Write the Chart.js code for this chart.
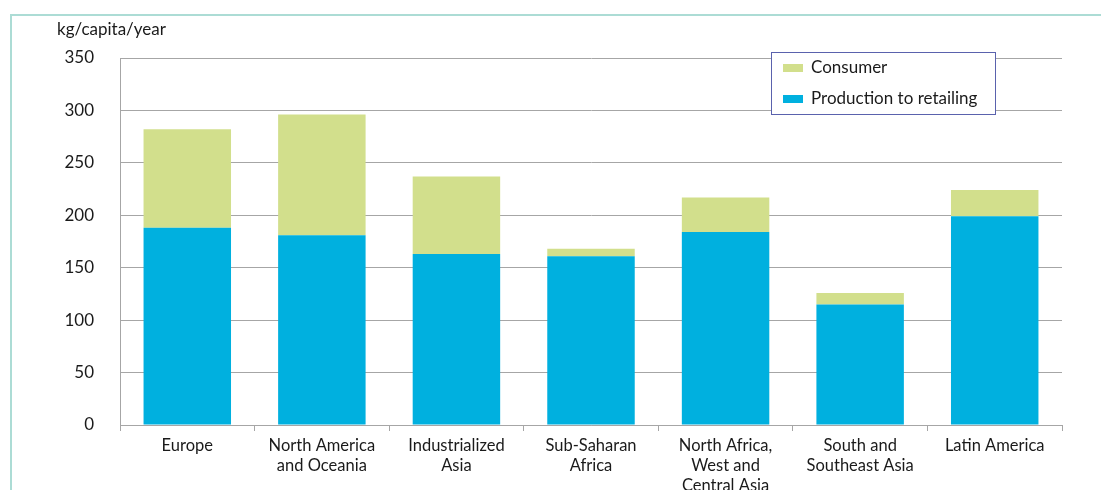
<!DOCTYPE html>
<html>
<head>
<meta charset="utf-8">
<script src="https://cdn.jsdelivr.net/npm/chart.js@4.4.1/dist/chart.umd.min.js"></script>
<style>
  html, body { margin: 0; padding: 0; background: #fff; }
  #wrap { position: relative; width: 1101px; height: 490px; overflow: hidden; }
  #frame {
    position: absolute; left: 10px; top: 14px; right: -10px; bottom: -10px;
    border-left: 2px solid #acdcd5; border-top: 2px solid #acdcd5;
  }
  canvas { position: absolute; left: 0; top: 0; }
</style>
</head>
<body>
<div id="wrap">
  <div id="frame"></div>
  <canvas id="chart" width="1101" height="490"></canvas>
</div>
<script>
const regions = [
  "Europe",
  ["North America", "and Oceania"],
  ["Industrialized", "Asia"],
  ["Sub-Saharan", "Africa"],
  ["North Africa,", "West and", "Central Asia"],
  ["South and", "Southeast Asia"],
  "Latin America"
];
const productionToRetailing = [188, 181, 163, 161, 184, 115, 199];
const consumer = [94, 115, 74, 7, 33, 11, 25];
const yTicks = [0, 50, 100, 150, 200, 250, 300, 350];

const FONT = "Lato, 'Noto Sans', sans-serif";
const TEXT = "#1a1a1a";
const GREEN = "#d2df8c";
const BLUE = "#00b0df";

const overlay = {
  id: "overlay",
  afterDraw(chart) {
    const ctx = chart.ctx;
    ctx.save();
    // unit label above the y axis
    ctx.fillStyle = TEXT;
    ctx.font = `17px ${FONT}`;
    ctx.textBaseline = "middle";
    ctx.textAlign = "left";
    ctx.fillText("kg/capita/year", 57, 30);

    // legend box
    ctx.fillStyle = "#fff";
    ctx.fillRect(771, 52, 224, 62);
    ctx.strokeStyle = "#5a62ad";
    ctx.lineWidth = 1;
    ctx.strokeRect(771.5, 52.5, 224, 62);
    const items = [
      { label: chart.data.datasets[1].label, color: chart.data.datasets[1].backgroundColor, y: 68 },
      { label: chart.data.datasets[0].label, color: chart.data.datasets[0].backgroundColor, y: 99 }
    ];
    items.forEach(it => {
      ctx.fillStyle = it.color;
      ctx.fillRect(783, it.y - 4, 20, 8);
      ctx.fillStyle = TEXT;
      ctx.font = `17px ${FONT}`;
      ctx.fillText(it.label, 811, it.y);
    });
    ctx.restore();
  }
};

new Chart(document.getElementById("chart"), {
  type: "bar",
  data: {
    labels: regions,
    datasets: [
      {
        label: "Production to retailing",
        data: productionToRetailing,
        backgroundColor: BLUE,
        borderWidth: 0,
        barPercentage: 0.65,
        categoryPercentage: 1
      },
      {
        label: "Consumer",
        data: consumer,
        backgroundColor: GREEN,
        borderWidth: 0,
        barPercentage: 0.65,
        categoryPercentage: 1
      }
    ]
  },
  options: {
    responsive: false,
    animation: false,
    devicePixelRatio: 1,
    layout: { padding: { left: 0, right: 39, top: 58, bottom: 0 } },
    plugins: {
      legend: { display: false },
      tooltip: { enabled: false }
    },
    scales: {
      x: {
        stacked: true,
        grid: {
          drawOnChartArea: false,
          drawTicks: true,
          tickLength: 6,
          offset: true,
          color: "#a6a6a6"
        },
        border: { color: "#a6a6a6", width: 1 },
        ticks: {
          color: TEXT,
          font: { family: FONT, size: 16.5, lineHeight: 1.21 },
          maxRotation: 0,
          autoSkip: false,
          padding: 5
        },
        afterFit(scale) { scale.height = 65; }
      },
      y: {
        stacked: true,
        min: 0,
        max: 350,
        afterBuildTicks(scale) { scale.ticks = yTicks.map(v => ({ value: v })); },
        grid: { color: "#a6a6a6", drawTicks: false },
        border: { color: "#a6a6a6", width: 1 },
        ticks: {
          color: TEXT,
          font: { family: FONT, size: 17 },
          padding: 26
        },
        afterFit(scale) { scale.width = 120; }
      }
    }
  },
  plugins: [overlay]
});
</script>
</body>
</html>
